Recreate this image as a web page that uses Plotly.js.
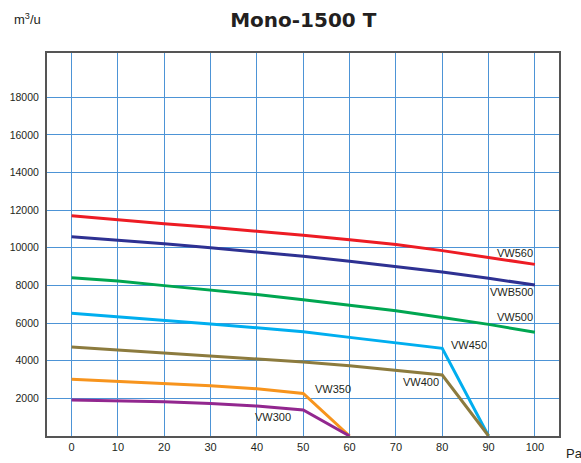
<!DOCTYPE html>
<html>
<head>
<meta charset="utf-8">
<script src="https://cdn.plot.ly/plotly-3.0.1.min.js"></script>
<style>html,body{margin:0;padding:0;background:#fff;}#chart{width:581px;height:463px;}</style>
</head>
<body>
<div id="chart"></div>
<script>
// Pressure (Pa)
const pressure = [0, 10, 20, 30, 40, 50, 60, 70, 80, 90, 100];
const pressureShort = [0, 10, 20, 30, 40, 50, 60];
const pressureMid = [0, 10, 20, 30, 40, 50, 60, 70, 80, 90];

// Airflow (m3/u)
const vw560  = [11700, 11480, 11280, 11090, 10890, 10670, 10430, 10170, 9850, 9470, 9120];
const vwb500 = [10590, 10410, 10220, 10000, 9790, 9550, 9290, 9010, 8710, 8380, 8020];
const vw500  = [8410, 8230, 7990, 7760, 7520, 7240, 6960, 6650, 6300, 5930, 5510];
const vw450  = [6520, 6340, 6160, 5950, 5750, 5540, 5240, 4940, 4660, 0];
const vw400  = [4730, 4570, 4420, 4260, 4090, 3930, 3730, 3490, 3240, 0];
const vw350  = [3010, 2900, 2800, 2670, 2510, 2260, 0];
const vw300  = [1910, 1870, 1820, 1730, 1590, 1380, 0];

const seriesNames = ['VW560', 'VWB500', 'VW500', 'VW450', 'VW400', 'VW350', 'VW300'];
const xTicks = [0, 10, 20, 30, 40, 50, 60, 70, 80, 90, 100];
const yTicks = [2000, 4000, 6000, 8000, 10000, 12000, 14000, 16000, 18000];

// label anchor positions (data units)
const labelX = [100, 100, 100, 81.5, 79.8, 52, 47.8];
const labelY = [9720, 7650, 6320, 4830, 2870, 2490, 1000];
const labelAnchor = ['right', 'right', 'right', 'left', 'right', 'left', 'right'];

const colors = ['#ed1c24', '#2e3192', '#00a651', '#00aeef', '#8c7b3e', '#f7941d', '#92278f'];
const xs = [pressure, pressure, pressure, pressureMid, pressureMid, pressureShort, pressureShort];
const ys = [vw560, vwb500, vw500, vw450, vw400, vw350, vw300];

const FONT = 'Liberation Sans, Arial, sans-serif';

const traces = ys.map((y, i) => ({
  x: xs[i], y: y, type: 'scatter', mode: 'lines', name: seriesNames[i],
  line: {color: colors[i], width: 3}, hoverinfo: 'skip', cliponaxis: false
}));

const annotations = seriesNames.map((n, i) => ({
  x: labelX[i], y: labelY[i], xref: 'x', yref: 'y', text: n, showarrow: false,
  xanchor: labelAnchor[i], yanchor: 'middle',
  font: {family: FONT, size: 11, color: '#231f20'}
}));
annotations.push({x: -0.068, y: 1.089, xref: 'paper', yref: 'paper', text: 'm<sup>3</sup>/u', showarrow: false,
  xanchor: 'left', yanchor: 'middle', font: {family: FONT, size: 13, color: '#231f20'}});
annotations.push({x: 1.01, y: -0.045, xref: 'paper', yref: 'paper', text: 'Pa', showarrow: false,
  xanchor: 'left', yanchor: 'middle', font: {family: FONT, size: 13, color: '#231f20'}});

const layout = {
  width: 581, height: 463,
  margin: {l: 47, r: 22, t: 53, b: 27},
  paper_bgcolor: '#fff', plot_bgcolor: '#fff',
  showlegend: false,
  title: {text: '<b>Mono-1500 T</b>', x: 0.522, xanchor: 'center', y: 0.957, yanchor: 'middle',
    font: {family: 'DejaVu Sans, sans-serif', size: 20, color: '#231f20'}},
  xaxis: {
    range: [-5.3, 105.2], tickvals: xTicks, ticktext: xTicks.map(String),
    showgrid: true, gridcolor: '#4d94d6', gridwidth: 1, zeroline: false,
    showline: true, linecolor: '#555', linewidth: 2, mirror: true, ticks: '',
    tickfont: {family: FONT, size: 11, color: '#231f20'},
    fixedrange: true
  },
  yaxis: {
    range: [0, 20350], tickvals: yTicks, ticktext: yTicks.map(String),
    showgrid: true, gridcolor: '#4d94d6', gridwidth: 1, zeroline: false,
    showline: true, linecolor: '#555', linewidth: 2, mirror: true, ticks: '',
    ticklabelstandoff: 4,
    tickfont: {family: FONT, size: 10.5, color: '#231f20'},
    fixedrange: true
  },
  annotations: annotations
};
Plotly.newPlot('chart', traces, layout, {displayModeBar: false, staticPlot: true});
</script>
</body>
</html>
